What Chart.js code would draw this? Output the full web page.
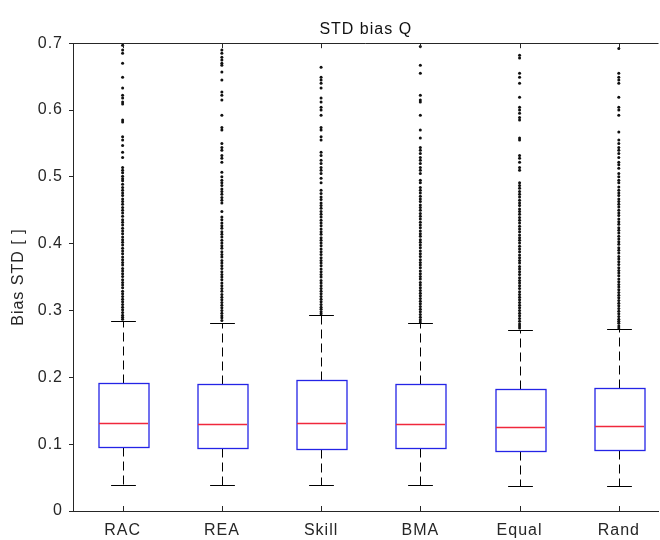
<!DOCTYPE html>
<html>
<head>
<meta charset="utf-8">
<script src="https://cdn.jsdelivr.net/npm/chart.js@4.4.1/dist/chart.umd.min.js"></script>
<style>
  html, body { margin: 0; padding: 0; background: #fff; overflow: hidden; }
</style>
</head>
<body>
<canvas id="myChart" width="660" height="540"></canvas>
<script>
// categorias y estadisticos de cada caja
const categorias = ['RAC', 'REA', 'Skill', 'BMA', 'Equal', 'Rand'];
const bigoteInf = [0.039, 0.039, 0.039, 0.039, 0.037, 0.038];
const cuartil1 = [0.096, 0.094, 0.093, 0.094, 0.090, 0.091];
const mediana = [0.132, 0.130, 0.132, 0.130, 0.126, 0.127];
const cuartil3 = [0.192, 0.190, 0.196, 0.190, 0.183, 0.184];
const bigoteSup = [0.284, 0.281, 0.293, 0.281, 0.271, 0.272];

// valores atipicos (puntos por encima del bigote superior)
const atipRAC = [0.697, 0.690, 0.685, 0.670, 0.649, 0.633, 0.622, 0.618, 0.612, 0.609, 0.585, 0.582,
  0.560, 0.555, 0.547, 0.537, 0.529, 0.514, 0.510, 0.506, 0.501, 0.497, 0.494, 0.489, 0.484, 0.480,
  0.476, 0.472, 0.467, 0.463, 0.459, 0.454, 0.450, 0.446, 0.441, 0.436, 0.432, 0.428, 0.423, 0.419,
  0.415, 0.410, 0.406, 0.402, 0.398, 0.393, 0.389, 0.385, 0.380, 0.376, 0.372, 0.368, 0.363, 0.359,
  0.355, 0.351, 0.346, 0.342, 0.338, 0.334, 0.329, 0.325, 0.321, 0.317, 0.313, 0.309, 0.305, 0.301,
  0.297, 0.293, 0.290, 0.287];
const atipREA = [0.690, 0.685, 0.679, 0.675, 0.670, 0.667, 0.657, 0.645, 0.627, 0.622, 0.615, 0.592,
  0.574, 0.570, 0.550, 0.544, 0.540, 0.532, 0.528, 0.522, 0.507, 0.500, 0.495, 0.491, 0.487, 0.482,
  0.478, 0.474, 0.469, 0.465, 0.461, 0.448, 0.440, 0.436, 0.431, 0.427, 0.423, 0.418, 0.414, 0.410,
  0.405, 0.401, 0.397, 0.393, 0.388, 0.384, 0.380, 0.375, 0.371, 0.367, 0.363, 0.358, 0.354, 0.350,
  0.346, 0.341, 0.337, 0.333, 0.329, 0.324, 0.320, 0.316, 0.312, 0.308, 0.304, 0.300, 0.296, 0.292,
  0.289, 0.285];
const atipSkill = [0.664, 0.649, 0.645, 0.640, 0.633, 0.618, 0.612, 0.604, 0.600, 0.592, 0.574, 0.570,
  0.560, 0.555, 0.537, 0.532, 0.525, 0.520, 0.514, 0.510, 0.505, 0.498, 0.491, 0.480, 0.475, 0.470,
  0.466, 0.461, 0.457, 0.453, 0.448, 0.444, 0.440, 0.435, 0.431, 0.427, 0.422, 0.418, 0.414, 0.409,
  0.405, 0.401, 0.397, 0.392, 0.388, 0.384, 0.379, 0.375, 0.371, 0.367, 0.362, 0.358, 0.354, 0.350,
  0.345, 0.341, 0.337, 0.333, 0.329, 0.325, 0.321, 0.317, 0.313, 0.309, 0.305, 0.302, 0.298, 0.295];
const atipBMA = [0.695, 0.667, 0.655, 0.622, 0.615, 0.612, 0.592, 0.570, 0.558, 0.544, 0.540, 0.535,
  0.529, 0.525, 0.520, 0.514, 0.510, 0.505, 0.495, 0.491, 0.484, 0.480, 0.476, 0.471, 0.467, 0.463,
  0.458, 0.454, 0.450, 0.445, 0.441, 0.437, 0.432, 0.428, 0.424, 0.419, 0.415, 0.411, 0.406, 0.402,
  0.398, 0.394, 0.389, 0.385, 0.381, 0.376, 0.372, 0.368, 0.364, 0.359, 0.355, 0.351, 0.347, 0.342,
  0.338, 0.334, 0.330, 0.326, 0.322, 0.318, 0.314, 0.310, 0.306, 0.302, 0.298, 0.294, 0.290, 0.286,
  0.283];
const atipEqual = [0.682, 0.678, 0.655, 0.649, 0.640, 0.619, 0.604, 0.600, 0.595, 0.589, 0.585, 0.558,
  0.555, 0.532, 0.528, 0.522, 0.514, 0.510, 0.491, 0.487, 0.483, 0.478, 0.474, 0.470, 0.465, 0.461,
  0.457, 0.452, 0.448, 0.444, 0.439, 0.435, 0.431, 0.426, 0.422, 0.418, 0.413, 0.409, 0.405, 0.401,
  0.396, 0.392, 0.388, 0.383, 0.379, 0.375, 0.371, 0.366, 0.362, 0.358, 0.354, 0.349, 0.345, 0.341,
  0.337, 0.333, 0.328, 0.324, 0.320, 0.316, 0.312, 0.308, 0.304, 0.300, 0.296, 0.292, 0.288, 0.284,
  0.280, 0.277, 0.274];
const atipRand = [0.692, 0.655, 0.649, 0.645, 0.640, 0.619, 0.604, 0.600, 0.592, 0.567, 0.555, 0.550,
  0.544, 0.540, 0.535, 0.529, 0.522, 0.518, 0.513, 0.505, 0.500, 0.495, 0.491, 0.485, 0.480, 0.476,
  0.472, 0.467, 0.463, 0.459, 0.455, 0.450, 0.446, 0.442, 0.437, 0.433, 0.429, 0.424, 0.420, 0.416,
  0.411, 0.407, 0.403, 0.399, 0.394, 0.390, 0.386, 0.381, 0.377, 0.373, 0.369, 0.364, 0.360, 0.356,
  0.352, 0.347, 0.343, 0.339, 0.335, 0.331, 0.327, 0.323, 0.319, 0.315, 0.311, 0.307, 0.303, 0.299,
  0.295, 0.291, 0.287, 0.284, 0.281, 0.277, 0.274];
const listaAtipicos = [atipRAC, atipREA, atipSkill, atipBMA, atipEqual, atipRand];

const COLOR_EJE = '#262626';
const COLOR_CAJA = '#2424e6';
const COLOR_MEDIANA = '#f0283c';
const FUENTE = "'Liberation Sans', Arial, Helvetica, sans-serif";

let puntosAtipicos = [];
for (let i = 0; i < listaAtipicos.length; i++) {
    for (let q = 0; q < listaAtipicos[i].length; q++) {
        puntosAtipicos.push({ x: i + 1, y: listaAtipicos[i][q] });
    }
}

//---------------------------------PLUGIN DE CAJAS---------------------------------
const pluginCajas = {
    id: 'cajas',
    beforeDraw(chart) {
        chart.ctx.letterSpacing = '1px';
    },
    afterDatasetsDraw(chart) {
        const ctx = chart.ctx;
        const x = chart.scales.x;
        const y = chart.scales.y;
        const area = chart.chartArea;
        const px = v => Math.round(v) + 0.5;

        ctx.save();
        for (let i = 0; i < categorias.length; i++) {
            const xc = px(x.getPixelForValue(i + 1));
            const medio = x.getPixelForValue(i + 1.25) - x.getPixelForValue(i + 1);
            const yQ1 = px(y.getPixelForValue(cuartil1[i]));
            const yQ3 = px(y.getPixelForValue(cuartil3[i]));
            const yMed = px(y.getPixelForValue(mediana[i]));
            const yInf = px(y.getPixelForValue(bigoteInf[i]));
            const ySup = px(y.getPixelForValue(bigoteSup[i]));

            // bigotes discontinuos
            ctx.strokeStyle = '#000';
            ctx.lineWidth = 1;
            ctx.setLineDash([9, 5]);
            ctx.beginPath();
            ctx.moveTo(xc, yQ3); ctx.lineTo(xc, ySup);
            ctx.moveTo(xc, yQ1); ctx.lineTo(xc, yInf);
            ctx.stroke();
            ctx.setLineDash([]);

            // topes
            ctx.beginPath();
            ctx.moveTo(xc - medio / 2, ySup); ctx.lineTo(xc + medio / 2, ySup);
            ctx.moveTo(xc - medio / 2, yInf); ctx.lineTo(xc + medio / 2, yInf);
            ctx.stroke();

            // caja
            ctx.strokeStyle = COLOR_CAJA;
            ctx.lineWidth = 1.3;
            ctx.strokeRect(Math.round(xc - medio), yQ3, Math.round(2 * medio), yQ1 - yQ3);

            // mediana
            ctx.strokeStyle = COLOR_MEDIANA;
            ctx.beginPath();
            ctx.moveTo(Math.round(xc - medio), yMed); ctx.lineTo(Math.round(xc + medio), yMed);
            ctx.stroke();
        }

        // borde superior y marcas hacia dentro en el eje x
        ctx.strokeStyle = COLOR_EJE;
        ctx.lineWidth = 1;
        ctx.beginPath();
        ctx.moveTo(area.left, px(area.top)); ctx.lineTo(area.right, px(area.top));
        for (let i = 0; i < categorias.length; i++) {
            const xt = px(x.getPixelForValue(i + 1));
            ctx.moveTo(xt, area.bottom); ctx.lineTo(xt, area.bottom - 5);
            ctx.moveTo(xt, area.top); ctx.lineTo(xt, area.top + 5);
        }
        ctx.stroke();
        ctx.restore();
    }
};

//---------------------------------GRAFICA---------------------------------
const config = {
    type: 'scatter',
    data: {
        datasets: [{
            label: 'atipicos',
            data: puntosAtipicos,
            pointRadius: 1.5,
            pointHoverRadius: 1.5,
            pointBorderWidth: 0,
            backgroundColor: '#111',
            borderColor: '#111'
        }]
    },
    options: {
        responsive: false,
        animation: false,
        devicePixelRatio: 1,
        layout: {
            padding: { left: 0, right: 0, top: 0, bottom: 0 }
        },
        plugins: {
            legend: { display: false },
            tooltip: { enabled: false },
            title: {
                display: true,
                text: 'STD bias Q',
                fullSize: false,
                color: '#111',
                font: { family: FUENTE, size: 16, weight: 'normal' },
                padding: { top: 20, bottom: 4 }
            }
        },
        scales: {
            x: {
                type: 'linear',
                min: 0.5,
                max: 6.4,
                afterBuildTicks: function (scale) {
                    scale.ticks = categorias.map((c, i) => ({ value: i + 1 }));
                },
                afterFit: function (scale) {
                    scale.height = 29;
                },
                grid: { display: false, drawTicks: false },
                border: { display: true, color: COLOR_EJE, width: 1 },
                ticks: {
                    color: COLOR_EJE,
                    font: { family: FUENTE, size: 16 },
                    padding: 10,
                    maxRotation: 0,
                    autoSkip: false,
                    callback: function (value) {
                        return categorias[Math.round(value) - 1];
                    }
                }
            },
            y: {
                min: 0,
                max: 0.7,
                afterFit: function (scale) {
                    scale.width = 73;
                },
                grid: {
                    drawOnChartArea: false,
                    drawTicks: true,
                    tickLength: 4,
                    color: COLOR_EJE
                },
                border: { display: true, color: COLOR_EJE, width: 1 },
                title: {
                    display: true,
                    text: 'Bias STD [ ]',
                    color: COLOR_EJE,
                    font: { family: FUENTE, size: 16 },
                    padding: { top: 9, bottom: 0 }
                },
                ticks: {
                    stepSize: 0.1,
                    color: COLOR_EJE,
                    font: { family: FUENTE, size: 16 },
                    padding: 6,
                    callback: function (value) {
                        return value === 0 ? '0' : value.toFixed(1);
                    }
                }
            }
        }
    },
    plugins: [pluginCajas]
};

const myChart = new Chart(document.getElementById('myChart'), config);
</script>
</body>
</html>
